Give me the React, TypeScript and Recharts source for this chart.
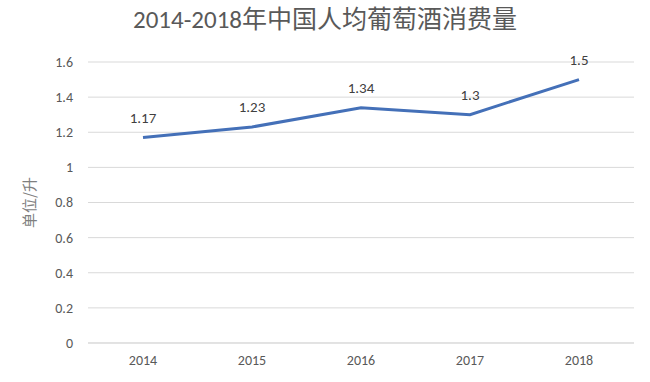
import { LineChart, Line, XAxis, YAxis, CartesianGrid, LabelList } from 'recharts';

const years = ['2014', '2015', '2016', '2017', '2018'];
const consumo = [1.17, 1.23, 1.34, 1.3, 1.5];
const yTicks = [0, 0.2, 0.4, 0.6, 0.8, 1, 1.2, 1.4, 1.6];

const data = years.map((year, i) => ({ year, valor: consumo[i] }));

const FONT = 'Carlito, "Open Sans", "Noto Sans CJK SC", sans-serif';

export default function App() {
  return (
    <div style={{ position: 'absolute', left: 0, top: 0, width: 650, height: 382, background: '#fff', fontFamily: FONT }}>
      <div
        style={{
          position: 'absolute', left: 0, top: 4, width: 650, textAlign: 'center',
          fontSize: 25, lineHeight: '32px', color: '#595959', fontFamily: FONT,
        }}
      >
        2014-2018年中国人均葡萄酒消费量
      </div>
      <LineChart
        width={650}
        height={382}
        data={data}
        margin={{ top: 62, right: 16, left: 0, bottom: 9 }}
      >
        <CartesianGrid stroke="#d9d9d9" vertical={false} />
        <XAxis
          dataKey="year"
          height={30}
          padding={{ left: 55, right: 55 }}
          axisLine={{ stroke: '#d9d9d9' }}
          tickLine={false}
          tickSize={0}
          tickMargin={12}
          tick={{ fill: '#595959', fontSize: 14, fontFamily: FONT }}
        />
        <YAxis
          width={88}
          domain={[0, 1.6]}
          ticks={yTicks}
          axisLine={false}
          tickLine={false}
          tickSize={0}
          tickMargin={15}
          tick={{ fill: '#595959', fontSize: 14, fontFamily: FONT }}
          label={{
            value: '单位/升', angle: -90, position: 'insideLeft', offset: 30,
            style: { textAnchor: 'middle', fill: '#7f7f7f', fontSize: 15, fontFamily: '"Noto Sans CJK SC", sans-serif' },
          }}
        />
        <Line
          type="linear"
          dataKey="valor"
          stroke="#4470b8"
          strokeWidth={3}
          dot={false}
          isAnimationActive={false}
        >
          <LabelList dataKey="valor" position="top" offset={15} fill="#404040" fontSize={15} fontFamily={FONT} />
        </Line>
      </LineChart>
    </div>
  );
}
